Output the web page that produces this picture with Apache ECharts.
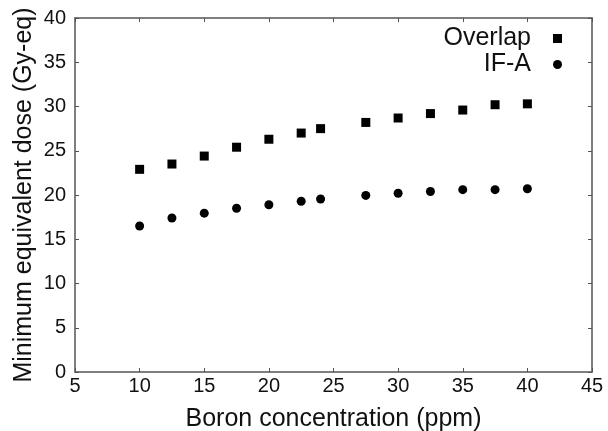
<!DOCTYPE html>
<html><head><meta charset="utf-8">
<script src="https://cdn.jsdelivr.net/npm/echarts@6/dist/echarts.min.js"></script>
<style>html,body{margin:0;padding:0;background:#fff}#c{width:608px;height:431px}</style>
</head><body><div id="c"></div>
<script>
const boron = [10, 12.5, 15, 17.5, 20, 22.5, 24, 27.5, 30, 32.5, 35, 37.5, 40];
const overlap = [22.9, 23.5, 24.4, 25.4, 26.3, 27.0, 27.5, 28.2, 28.7, 29.2, 29.6, 30.2, 30.3];
const ifa = [16.5, 17.4, 17.95, 18.5, 18.9, 19.3, 19.55, 19.95, 20.2, 20.4, 20.6, 20.6, 20.7];
const xTitle = 'Boron concentration (ppm)';
const yTitle = 'Minimum equivalent dose (Gy-eq)';

const font = 'Liberation Sans, Arial, sans-serif';
const axisLineColor = '#555';
const txt = '#111';
const pairs = (xs, ys) => xs.map((x, i) => [x, ys[i]]);

const axisCommon = {
  axisLine: {show: true, onZero: false, lineStyle: {color: axisLineColor, width: 1.5}},
  axisTick: {show: true, inside: true, length: 4, lineStyle: {color: axisLineColor, width: 1}},
  splitLine: {show: false}
};

const chart = echarts.init(document.getElementById('c'));
chart.setOption({
  animation: false,
  backgroundColor: '#fff',
  grid: {left: 75, right: 16, top: 18, bottom: 59, containLabel: false, outerBoundsMode: 'none'},
  legend: {
    orient: 'vertical', align: 'right', right: 41, top: 21,
    itemGap: 1, itemWidth: 9, itemHeight: 9,
    textStyle: {fontFamily: font, fontSize: 25, color: txt, lineHeight: 25, padding: [0, 17, 0, 0]},
    data: [{name: 'Overlap', icon: 'rect'}, {name: 'IF-A', icon: 'circle'}]
  },
  xAxis: [
    Object.assign({}, axisCommon, {
      type: 'value', min: 5, max: 45, interval: 5, position: 'bottom',
      axisLabel: {fontFamily: font, fontSize: 20, color: txt, margin: 4},
      name: xTitle, nameLocation: 'middle', nameGap: 35,
      nameTextStyle: {fontFamily: font, fontSize: 25, color: txt}
    }),
    Object.assign({}, axisCommon, {
      type: 'value', min: 5, max: 45, interval: 5, position: 'top',
      axisLabel: {show: false}
    })
  ],
  yAxis: [
    Object.assign({}, axisCommon, {
      type: 'value', min: 0, max: 40, interval: 5, position: 'left',
      axisLabel: {fontFamily: font, fontSize: 20, color: txt, margin: 9}
    }),
    Object.assign({}, axisCommon, {
      type: 'value', min: 0, max: 40, interval: 5, position: 'right',
      axisLabel: {show: false}
    }),
    {
      type: 'value', min: 0, max: 40, interval: 5, position: 'left', offset: 0,
      axisLine: {show: false}, axisTick: {show: false}, axisLabel: {show: false}, splitLine: {show: false},
      name: yTitle, nameLocation: 'middle', nameGap: 38,
      nameTextStyle: {fontFamily: font, fontSize: 25, color: txt}
    }
  ],
  series: [
    {name: 'Overlap', type: 'scatter', symbol: 'rect', symbolSize: 9,
     itemStyle: {color: '#000', opacity: 1}, data: pairs(boron, overlap)},
    {name: 'IF-A', type: 'scatter', symbol: 'circle', symbolSize: 9,
     itemStyle: {color: '#000', opacity: 1}, data: pairs(boron, ifa)}
  ]
});
</script></body></html>
